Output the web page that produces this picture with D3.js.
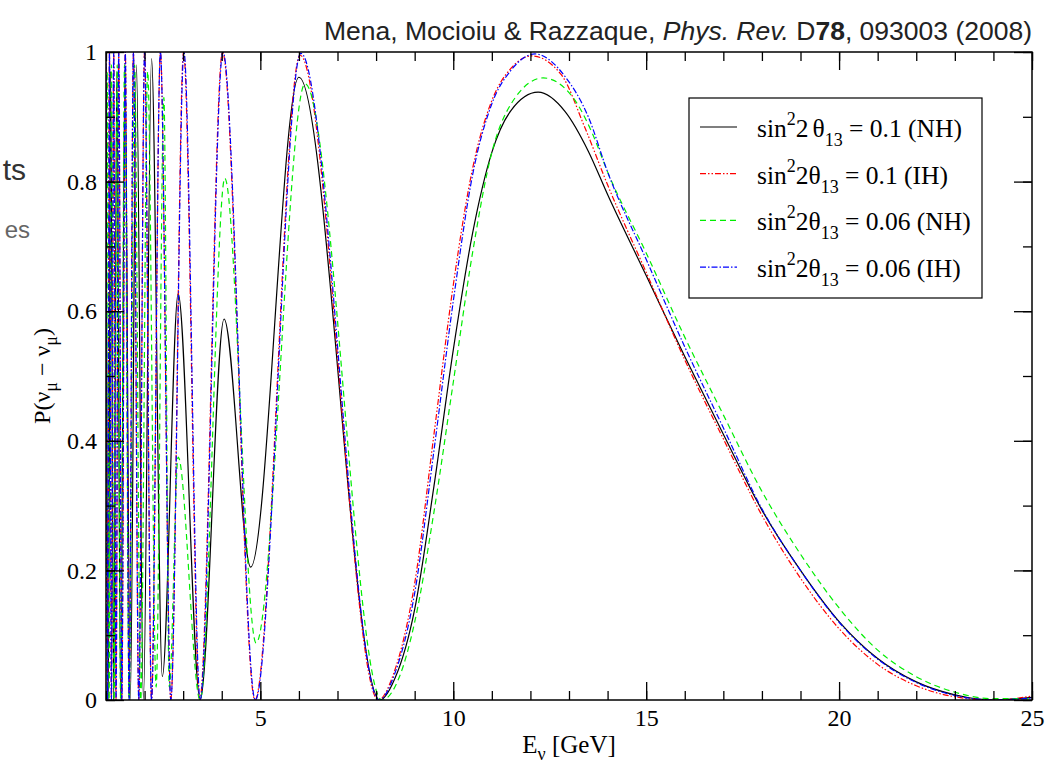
<!DOCTYPE html>
<html>
<head>
<meta charset="utf-8">
<script src="https://cdn.jsdelivr.net/npm/d3@7"></script>
<style>
  body { margin: 0; background: #fff; }
  svg text { font-family: "Liberation Serif", "Times New Roman", serif; }
</style>
</head>
<body>
<div id="chart"></div>
<script>
// --- data: [E (GeV), P] pairs at extrema and along the big arch ---
const nh01 = [
  [1.00, 0.95], [1.06, 0], [1.12, 0.97], [1.20, 0], [1.28, 0.97], [1.38, 0], [1.49, 0.97],
  [1.63, 0], [1.79, 0.98], [1.97, 0], [2.18, 0.99], [2.46, 0.036], [2.87, 0.627], [3.44, 0],
  [4.06, 0.588], [4.75, 0.205], [6.0, 0.961], [8.1, 0], [8.5, 0.035], [9.0, 0.14],
  [9.5, 0.33], [10.0, 0.54], [10.5, 0.72], [11.0, 0.845], [11.5, 0.91], [12.2, 0.938],
  [12.9, 0.908], [13.5, 0.847], [14.0, 0.78], [15, 0.655], [16, 0.53], [17, 0.41],
  [18, 0.293], [19, 0.2], [20, 0.121], [21, 0.064], [22, 0.028], [23, 0.008], [24, 0],
  [25, 0.004]
];
const ih01 = [
  [1.00, 1], [1.04, 0], [1.09, 1], [1.14, 0], [1.20, 1], [1.26, 0], [1.33, 1], [1.41, 0],
  [1.50, 1], [1.60, 0], [1.71, 1], [1.85, 0], [2.0, 1], [2.18, 0], [2.41, 1], [2.68, 0],
  [3.01, 1], [3.43, 0], [4.02, 1], [4.86, 0], [6.03, 0.995], [8.06, 0], [8.45, 0.04],
  [9.0, 0.18], [9.5, 0.41], [10.0, 0.64], [10.5, 0.82], [11.0, 0.925], [11.5, 0.975],
  [12.03, 0.994], [12.8, 0.965], [13.4, 0.885], [14.0, 0.795], [15, 0.66], [16, 0.525],
  [17, 0.403], [18, 0.285], [19, 0.188], [20, 0.11], [21, 0.055], [22, 0.022], [23, 0.005],
  [24, 0], [25, 0.006]
];
const nh006 = [
  [1.00, 0.2], [1.03, 0.97], [1.08, 0], [1.14, 0.98], [1.21, 0], [1.29, 0.98], [1.38, 0],
  [1.48, 0.98], [1.60, 0], [1.74, 0.98], [1.90, 0], [2.08, 0.97], [2.30, 0.02], [2.50, 0.93],
  [2.64, 0.02], [2.87, 0.375], [3.44, 0], [4.08, 0.805], [4.89, 0.088], [6.16, 0.951],
  [8.15, 0], [8.6, 0.035], [9.0, 0.12], [9.5, 0.29], [10.0, 0.49], [10.5, 0.69],
  [11.0, 0.845], [11.5, 0.92], [12.33, 0.96], [13.1, 0.93], [13.6, 0.875], [14.0, 0.815],
  [15, 0.69], [16, 0.56], [17, 0.44], [18, 0.322], [19, 0.225], [20, 0.142], [21, 0.077],
  [22, 0.036], [23, 0.012], [24, 0.002], [25, 0.002]
];
const ih006 = [
  [1.00, 1], [1.04, 0], [1.09, 1], [1.14, 0], [1.20, 1], [1.26, 0], [1.33, 1], [1.41, 0],
  [1.50, 1], [1.60, 0], [1.71, 1], [1.85, 0], [2.0, 1], [2.18, 0], [2.41, 1], [2.68, 0],
  [3.02, 1], [3.44, 0], [4.03, 1], [4.87, 0], [6.05, 0.998], [8.08, 0], [8.48, 0.04],
  [9.0, 0.165], [9.5, 0.385], [10.0, 0.615], [10.5, 0.81], [11.0, 0.92], [11.5, 0.972],
  [12.12, 0.997], [12.9, 0.962], [13.5, 0.9], [14.0, 0.815], [15, 0.68], [16, 0.545],
  [17, 0.42], [18, 0.295], [19, 0.2], [20, 0.12], [21, 0.063], [22, 0.027], [23, 0.007],
  [24, 0], [25, 0.003]
];

const seriesNames = ["nh01", "ih01", "nh006", "ih006"];
const legendValues = ["0.1", "0.1", "0.06", "0.06"];
const legendHier = ["NH", "IH", "NH", "IH"];
const xMajor = [5, 10, 15, 20, 25];
const xMinor = d3.range(1, 26);
const yMajor = [0, 0.2, 0.4, 0.6, 0.8, 1];
const yMinor = d3.range(0, 1.01, 0.1);

// --- layout ---
const W = 1055, H = 765;
const mLeft = 106, mRight = 1032, mTop = 52, mBottom = 700;

const svg = d3.select("#chart").append("svg")
  .attr("width", W).attr("height", H);

const x = d3.scaleLinear().domain([1, 25]).range([mLeft, mRight]);
const y = d3.scaleLinear().domain([0, 1]).range([mBottom, mTop]);

// credit line
const credit = svg.append("text")
  .attr("x", 1032).attr("y", 40)
  .attr("text-anchor", "end")
  .style("font-family", "'Liberation Sans', Arial, sans-serif")
  .style("font-size", "26.5px").attr("fill", "#222");
credit.append("tspan").text("Mena, Mocioiu & Razzaque, ");
credit.append("tspan").style("font-style", "italic").text("Phys. Rev.");
credit.append("tspan").text(" D");
credit.append("tspan").style("font-weight", "bold").text("78");
credit.append("tspan").text(", 093003 (2008)");

// clipped slide text on the left
svg.append("text").attr("x", 26).attr("y", 180).attr("text-anchor", "end")
  .style("font-family", "'Liberation Sans', Arial, sans-serif")
  .style("font-size", "30px").attr("fill", "#333").text("ts");
svg.append("text").attr("x", 30).attr("y", 238).attr("text-anchor", "end")
  .style("font-family", "'Liberation Sans', Arial, sans-serif")
  .style("font-size", "24px").attr("fill", "#666").text("es");

// --- curves ---
svg.append("clipPath").attr("id", "plot-clip")
  .append("rect").attr("x", mLeft).attr("y", mTop)
  .attr("width", mRight - mLeft).attr("height", mBottom - mTop);

const line = d3.line()
  .x(d => x(d[0])).y(d => y(d[1]))
  .curve(d3.curveMonotoneX);

const styles = {
  nh01:  { color: "#000000", dash: null },
  ih01:  { color: "#ff0000", dash: "6,2,1.5,2,1.5,2" },
  nh006: { color: "#00ee00", dash: "6,4" },
  ih006: { color: "#0000ff", dash: "6,2,1.5,2" }
};
const data = { nh01, ih01, nh006, ih006 };

const curves = svg.append("g").attr("clip-path", "url(#plot-clip)");
seriesNames.forEach(k => {
  curves.append("path")
    .datum(data[k])
    .attr("fill", "none")
    .attr("stroke", styles[k].color)
    .attr("stroke-width", 1.2)
    .attr("stroke-dasharray", styles[k].dash)
    .attr("d", line);
});

// --- axes (ticks point inward on all four sides) ---
function styleAxis(g) {
  g.select(".domain").remove();
  g.selectAll("line").attr("stroke", "#000").attr("stroke-width", 1.3);
  g.selectAll("text").style("font-family", "'Liberation Serif', serif")
    .style("font-size", "24px").attr("fill", "#000");
}
svg.append("g").attr("transform", `translate(0,${mBottom})`)
  .call(d3.axisBottom(x).tickValues(xMinor).tickSize(-9).tickFormat(""))
  .call(styleAxis);
svg.append("g").attr("transform", `translate(0,${mBottom})`)
  .call(d3.axisBottom(x).tickValues(xMajor).tickSize(-18).tickPadding(9).tickFormat(d3.format("d")))
  .call(styleAxis);
svg.append("g").attr("transform", `translate(0,${mTop})`)
  .call(d3.axisTop(x).tickValues(xMinor).tickSize(-9).tickFormat(""))
  .call(styleAxis);
svg.append("g").attr("transform", `translate(0,${mTop})`)
  .call(d3.axisTop(x).tickValues(xMajor).tickSize(-18).tickFormat(""))
  .call(styleAxis);
svg.append("g").attr("transform", `translate(${mLeft},0)`)
  .call(d3.axisLeft(y).tickValues(yMinor).tickSize(-9).tickFormat(""))
  .call(styleAxis);
svg.append("g").attr("transform", `translate(${mLeft},0)`)
  .call(d3.axisLeft(y).tickValues(yMajor).tickSize(-18).tickPadding(9)
    .tickFormat(d => d === 0 || d === 1 ? d3.format("d")(d) : d3.format(".1f")(d)))
  .call(styleAxis);
svg.append("g").attr("transform", `translate(${mRight},0)`)
  .call(d3.axisRight(y).tickValues(yMinor).tickSize(-9).tickFormat(""))
  .call(styleAxis);
svg.append("g").attr("transform", `translate(${mRight},0)`)
  .call(d3.axisRight(y).tickValues(yMajor).tickSize(-18).tickFormat(""))
  .call(styleAxis);

svg.append("rect")
  .attr("x", mLeft).attr("y", mTop)
  .attr("width", mRight - mLeft).attr("height", mBottom - mTop)
  .attr("fill", "none").attr("stroke", "#000").attr("stroke-width", 1.5);

// --- axis titles ---
const xt = svg.append("text").attr("x", (mLeft + mRight) / 2).attr("y", 753)
  .attr("text-anchor", "middle").style("font-size", "25px");
xt.append("tspan").text("E");
xt.append("tspan").attr("dy", 7).style("font-size", "18px").text("ν");
xt.append("tspan").attr("dy", -7).text(" [GeV]");

const yt = svg.append("text")
  .attr("transform", `translate(50,${(mTop + mBottom) / 2}) rotate(-90)`)
  .attr("text-anchor", "middle").style("font-size", "24px");
yt.append("tspan").text("P(ν");
yt.append("tspan").attr("dy", 7).style("font-size", "18px").text("μ");
yt.append("tspan").attr("dy", -7).text(" − ν");
yt.append("tspan").attr("dy", 7).style("font-size", "18px").text("μ");
yt.append("tspan").attr("dy", -7).text(")");

// --- legend ---
const lg = svg.append("g");
lg.append("rect").attr("x", 689).attr("y", 98).attr("width", 293).attr("height", 200)
  .attr("fill", "#fff").attr("stroke", "#000").attr("stroke-width", 1.2);
seriesNames.forEach((k, i) => {
  const ly = 127 + i * 46.7;
  lg.append("line").attr("x1", 700).attr("x2", 737).attr("y1", ly).attr("y2", ly)
    .attr("stroke", styles[k].color).attr("stroke-width", 1.2)
    .attr("stroke-dasharray", styles[k].dash);
  const t = lg.append("text").attr("x", 757).attr("y", ly + 10).style("font-size", "25.5px");
  t.append("tspan").text("sin");
  t.append("tspan").attr("dy", -12).style("font-size", "18px").text("2");
  t.append("tspan").attr("dy", 12).text("2");
  if (i === 0) t.append("tspan").attr("dx", 4).text("θ");
  else t.append("tspan").text("θ");
  t.append("tspan").attr("dy", 9).style("font-size", "18px").text("13");
  t.append("tspan").attr("dy", -9).text(` = ${legendValues[i]} (${legendHier[i]})`);
});
</script>
</body>
</html>
